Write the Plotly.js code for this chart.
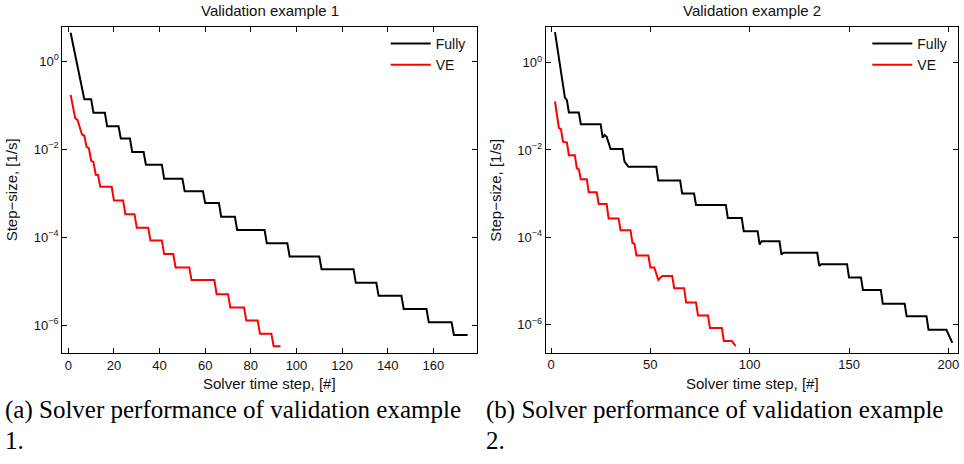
<!DOCTYPE html>
<html>
<head>
<meta charset="utf-8">
<script src="https://cdn.plot.ly/plotly-3.0.1.min.js"></script>
<style>html,body{margin:0;padding:0;background:#fff;}#chart{width:964px;height:464px;}</style>
</head>
<body>
<div id="chart"></div>
<script>
// ---- Data (vertices of the step curves) ----
// Validation example 1
const ex1FullyStep = [1, 7, 10, 11, 16, 17, 22, 23, 27, 28, 33, 34, 41, 42, 50, 51, 59, 60, 66, 67, 73, 74, 86, 87, 96, 97, 110, 111, 125, 126, 135, 136, 146, 147, 157, 158, 168, 169, 175];
const ex1FullyDt   = [4.4, 0.135, 0.135, 0.067, 0.067, 0.033, 0.033, 0.0174, 0.0174, 0.0085, 0.0085, 0.0044, 0.0044, 0.0021, 0.0021, 0.0011, 0.0011, 5.9e-4, 5.9e-4, 2.9e-4, 2.9e-4, 1.45e-4, 1.45e-4, 7.2e-5, 7.2e-5, 3.6e-5, 3.6e-5, 1.86e-5, 1.86e-5, 9.1e-6, 9.1e-6, 4.6e-6, 4.6e-6, 2.3e-6, 2.3e-6, 1.15e-6, 1.15e-6, 5.9e-7, 5.9e-7];
const ex1VEStep = [1, 3, 4, 6, 7, 8, 9, 10, 11, 12, 13, 14, 19, 20, 24, 25, 29, 30, 35, 36, 41, 42, 46, 47, 53, 54, 64, 65, 70, 71, 77, 78, 83, 84, 89, 90, 93];
const ex1VEDt   = [0.170, 0.050, 0.0457, 0.0214, 0.020, 0.0112, 0.0105, 0.0054, 0.0051, 0.0026, 0.00257, 0.00138, 0.00138, 6.8e-4, 6.8e-4, 3.3e-4, 3.3e-4, 1.62e-4, 1.62e-4, 8.3e-5, 8.3e-5, 4.1e-5, 4.1e-5, 2.04e-5, 2.04e-5, 1.05e-5, 1.05e-5, 5.0e-6, 5.0e-6, 2.5e-6, 2.5e-6, 1.26e-6, 1.26e-6, 6.3e-7, 6.3e-7, 3.3e-7, 3.3e-7];
// Validation example 2
const ex2FullyStep = [2, 7, 8, 9, 14, 15, 25, 26, 27, 28, 30, 36, 37, 39, 53, 54, 65, 66, 72, 73, 88, 89, 96, 97, 104, 105, 106, 115, 116, 117, 134, 135, 136, 149, 150, 156, 157, 166, 167, 178, 179, 189, 190, 199, 202];
const ex2FullyDt   = [5.0, 0.158, 0.138, 0.072, 0.072, 0.039, 0.039, 0.019, 0.022, 0.020, 0.0105, 0.0105, 0.0054, 0.0041, 0.0041, 0.0020, 0.0020, 0.0010, 0.0010, 5.5e-4, 5.5e-4, 2.75e-4, 2.75e-4, 1.38e-4, 1.38e-4, 6.8e-5, 8.1e-5, 8.1e-5, 4.0e-5, 4.4e-5, 4.4e-5, 2.2e-5, 2.4e-5, 2.4e-5, 1.2e-5, 1.2e-5, 6.2e-6, 6.2e-6, 3.0e-6, 3.0e-6, 1.55e-6, 1.55e-6, 7.6e-7, 7.6e-7, 3.8e-7];
const ex2VEStep = [2, 4, 5, 6, 8, 9, 12, 13, 14, 15, 18, 19, 23, 24, 28, 29, 34, 35, 40, 41, 42, 43, 49, 50, 52, 54, 56, 61, 62, 67, 68, 73, 74, 79, 80, 86, 87, 91, 93];
const ex2VEDt   = [0.129, 0.0316, 0.030, 0.0155, 0.0148, 0.0076, 0.0076, 0.0038, 0.0036, 0.00214, 0.00214, 0.00107, 0.00107, 5.75e-4, 5.75e-4, 2.7e-4, 2.7e-4, 1.45e-4, 1.45e-4, 7.4e-5, 7.1e-5, 3.8e-5, 3.8e-5, 2.04e-5, 2.04e-5, 1.05e-5, 1.29e-5, 1.29e-5, 6.8e-6, 6.8e-6, 3.2e-6, 3.2e-6, 1.62e-6, 1.62e-6, 8.3e-7, 8.3e-7, 4.2e-7, 4.2e-7, 3.2e-7];

const seriesNames = ["Fully", "VE"];
const panelTitles = ["Validation example 1", "Validation example 2"];
const xLabel = "Solver time step, [#]";
const yLabel = "Step\u2212size, [1/s]";
const xTicks1 = [0, 20, 40, 60, 80, 100, 120, 140, 160];
const xTicks2 = [0, 50, 100, 150, 200];
const yTickVals = [1e-6, 1e-4, 1e-2, 1];
const yTickText = ["10<sup>\u22126</sup>", "10<sup>\u22124</sup>", "10<sup>\u22122</sup>", "10<sup>0</sup>"];
const captionsLine1 = ["(a) Solver performance of validation example", "(b) Solver performance of validation example"];
const captionsLine2 = ["1.", "2."];

// ---- Styling ----
const FONT = "Liberation Sans, Arial, Helvetica, sans-serif";
const SERIF = "Liberation Serif, Times New Roman, serif";
const W = 964, H = 464;
const px = v => v / W;           // x pixel -> paper
const py = v => (H - v) / H;     // y pixel -> paper
const box1 = {l: 62.3, r: 476.7, t: 27, b: 353};
const box2 = {l: 545.7, r: 958.3, t: 27.3, b: 352.7};

const line = (c) => ({color: c, width: 2});

const traces = [
  {x: ex1FullyStep, y: ex1FullyDt, name: seriesNames[0], mode: "lines", line: line("#000000"), xaxis: "x", yaxis: "y", legend: "legend"},
  {x: ex1VEStep, y: ex1VEDt, name: seriesNames[1], mode: "lines", line: line("#ff0000"), xaxis: "x", yaxis: "y", legend: "legend"},
  {x: ex2FullyStep, y: ex2FullyDt, name: seriesNames[0], mode: "lines", line: line("#000000"), xaxis: "x2", yaxis: "y2", legend: "legend2"},
  {x: ex2VEStep, y: ex2VEDt, name: seriesNames[1], mode: "lines", line: line("#ff0000"), xaxis: "x2", yaxis: "y2", legend: "legend2"}
];

const axCommon = {
  showline: true, linecolor: "#000", linewidth: 1, mirror: "ticks",
  ticks: "inside", ticklen: 5, tickwidth: 1, tickcolor: "#000",
  showgrid: false, zeroline: false,
  tickfont: {family: FONT, size: 13, color: "#111"}
};

const legendCommon = {
  bgcolor: "rgba(0,0,0,0)", borderwidth: 0,
  font: {family: FONT, size: 14, color: "#111"},
  xanchor: "right", yanchor: "top", tracegroupgap: 0, itemwidth: 40
};

const ann = [];
[box1, box2].forEach((b, i) => {
  const cx = (b.l + b.r) / 2;
  ann.push({text: panelTitles[i], xref: "paper", yref: "paper", x: px(cx), y: py(10), xanchor: "center", yanchor: "middle", showarrow: false, font: {family: FONT, size: 15, color: "#111"}});
  ann.push({text: xLabel, xref: "paper", yref: "paper", x: px(cx), y: py(383.5), xanchor: "center", yanchor: "middle", showarrow: false, font: {family: FONT, size: 15, color: "#111"}});
  ann.push({text: yLabel, xref: "paper", yref: "paper", x: px(b.l - 50), y: py((b.t + b.b) / 2), xanchor: "center", yanchor: "middle", textangle: -90, showarrow: false, font: {family: FONT, size: 15, color: "#111"}});
});
[3, 484].forEach((x0, i) => {
  ann.push({text: captionsLine1[i], xref: "paper", yref: "paper", x: px(x0), y: py(410), xanchor: "left", yanchor: "middle", showarrow: false, font: {family: SERIF, size: 25, color: "#000"}});
  ann.push({text: captionsLine2[i], xref: "paper", yref: "paper", x: px(x0), y: py(440), xanchor: "left", yanchor: "middle", showarrow: false, font: {family: SERIF, size: 25, color: "#000"}});
});

const layout = {
  width: W, height: H, autosize: false,
  margin: {l: 0, r: 0, t: 0, b: 0, pad: 0},
  paper_bgcolor: "#fff", plot_bgcolor: "#fff",
  showlegend: true,
  xaxis: Object.assign({}, axCommon, {domain: [px(box1.l), px(box1.r)], range: [-2.65, 179.0], tickvals: xTicks1, anchor: "y"}),
  yaxis: Object.assign({}, axCommon, {domain: [py(box1.b), py(box1.t)], type: "log", range: [-6.636, 0.773], tickvals: yTickVals, ticktext: yTickText, anchor: "x"}),
  xaxis2: Object.assign({}, axCommon, {domain: [px(box2.l), px(box2.r)], range: [-2.67, 205.0], tickvals: xTicks2, anchor: "y2"}),
  yaxis2: Object.assign({}, axCommon, {domain: [py(box2.b), py(box2.t)], type: "log", range: [-6.645, 0.81], tickvals: yTickVals, ticktext: yTickText, anchor: "x2"}),
  legend: Object.assign({}, legendCommon, {x: px(box1.r - 6), y: py(28)}),
  legend2: Object.assign({}, legendCommon, {x: px(box2.r - 6), y: py(28)}),
  annotations: ann
};

Plotly.newPlot("chart", traces, layout, {staticPlot: true, displayModeBar: false});
</script>
</body>
</html>
